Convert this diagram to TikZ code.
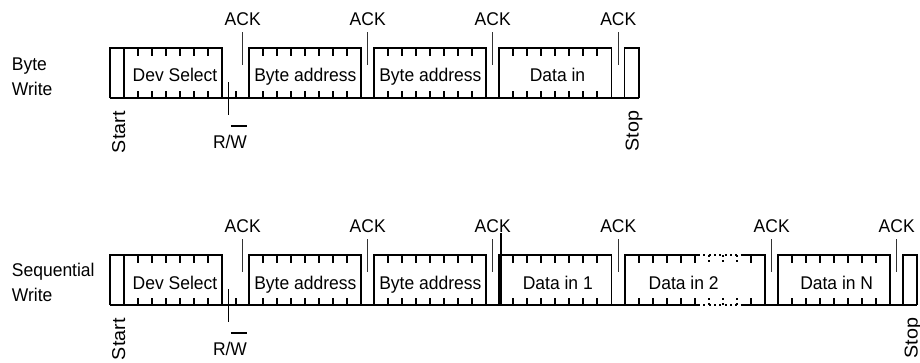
\documentclass[tikz,border=0pt]{standalone}
\usepackage{fontspec}
\setmainfont{Liberation Sans}[FakeStretch=0.95]
\newfontfamily\rotfont{Liberation Sans}[FakeStretch=1.06]
\usetikzlibrary{calc}
\tikzset{
  frm/.style={line width=1.4pt, line join=miter},
  tickln/.style={line width=1.3pt},
  ackl/.style={line width=0.8pt, black!80},
  rwl/.style={line width=0.8pt},
  dots/.style={line width=1.2pt, dash pattern=on 1.5pt off 2.5pt},
  txt/.style={inner sep=0pt, font=\fontsize{13.8}{16}\selectfont},
  rot/.style={inner sep=0pt, rotate=90, anchor=base west, font=\rotfont\fontsize{13.95}{16}\selectfont},
}
\newcommand\bitticks[4]{%
  \draw[tickln] \foreach \k in {1,...,#2}{ ({#1+14*\k},#3) -- ({#1+14*\k},{#3+8}) ({#1+14*\k},#4) -- ({#1+14*\k},{#4-7.5}) };}
\newcommand\bytebx[4]{\draw[frm] (#1,#4) |- (#2,#3) -- (#2,#4);}
\newcommand\ackline[2]{\draw[ackl] (#1,{#2-16}) -- (#1,{#2+17});}
\begin{document}
\begin{tikzpicture}[x=0.75pt, y=-0.75pt]
\useasboundingbox (0,0) rectangle (920,362);

% ---------------- Byte Write ----------------
\node[txt, anchor=base west] (bwA) at (11.7,70) {Byte};
\node[txt, anchor=base west] (bwB) at (11.7,95) {Write};

\draw[frm] (110,98) -- (639,98);
\draw[frm] (110,98) |- (222,48) -- (222,98);
\draw[frm] (124,48) -- (124,98);
\bitticks{124}{6}{48}{98}
\draw[rwl] (228.5,82) -- (228.5,115);
\draw[tickln] (236,98) -- (236,90.5);
\ackline{242.7}{48}
\bytebx{249}{361}{48}{98} \bitticks{249}{7}{48}{98}
\ackline{367.7}{48}
\bytebx{374}{486}{48}{98} \bitticks{374}{7}{48}{98}
\ackline{492.7}{48}
\bytebx{499}{611.5}{48}{98} \bitticks{499}{7}{48}{98}
\ackline{618.3}{48}
\bytebx{624.5}{639}{48}{98}

\node[txt, anchor=base] (dsA) at (175,81.7) {Dev Select};
\node[txt, anchor=base] (baA1) at (305.3,81.7) {Byte address};
\node[txt, anchor=base] (baA2) at (430.3,81.7) {Byte address};
\node[txt, anchor=base] (diA) at (557.5,81.7) {Data in};

\node[txt, anchor=base] (ackA1) at (242.7,25) {ACK};
\node[txt, anchor=base] (ackA2) at (367.7,25) {ACK};
\node[txt, anchor=base] (ackA3) at (492.7,25) {ACK};
\node[txt, anchor=base] (ackA4) at (618.3,25) {ACK};

\node[txt, anchor=base] (rwA) at (230,148) {R/W};
\draw[rwl] ($(rwA.base east)+(-16.5,-22)$) -- ++(16.5,0);
\node[rot] (startA) at (125,153.3) {Start};
\node[rot] (stopA) at (638.5,151.7) {Stop};

% ---------------- Sequential Write ----------------
\node[txt, anchor=base west] (swA) at (11.7,276) {Sequential};
\node[txt, anchor=base west] (swB) at (11.7,301) {Write};

\draw[frm] (110,305) -- (698,305);
\draw[dots] (698,305) -- (743,305);
\draw[frm] (743,305) -- (917,305);
\draw[frm] (110,305) |- (222,255) -- (222,305);
\draw[frm] (124,255) -- (124,305);
\bitticks{124}{6}{255}{305}
\draw[rwl] (228.5,289) -- (228.5,322);
\draw[tickln] (236,305) -- (236,297.5);
\ackline{242.7}{255}
\bytebx{249}{361}{255}{305} \bitticks{249}{7}{255}{305}
\ackline{367.7}{255}
\bytebx{374}{486}{255}{305} \bitticks{374}{7}{255}{305}
\ackline{492.7}{255}
\bytebx{499}{611.5}{255}{305} \bitticks{499}{7}{255}{305}
\draw[frm] (500.8,233) -- (500.8,305);
\ackline{618.3}{255}
% Data in 2 with dotted part
\draw[frm] (625,305) |- (698,255);
\draw[dots] (698,255) -- (743,255);
\draw[frm] (743,255) -- (765,255) -- (765,305);
\bitticks{625}{5}{255}{305}
\draw[dots] (709,255) -- (709,263) (723,255) -- (723,263) (737,255) -- (737,263)
            (709,305) -- (709,297.5) (723,305) -- (723,297.5) (737,305) -- (737,297.5);
\draw[tickln] (751,255) -- (751,263) (751,305) -- (751,297.5);
\ackline{771.7}{255}
\bytebx{778}{890}{255}{305} \bitticks{778}{7}{255}{305}
\ackline{896.7}{255}
\bytebx{903.3}{917}{255}{305}

\node[txt, anchor=base] (dsB) at (175,289) {Dev Select};
\node[txt, anchor=base] (baB1) at (305.3,289) {Byte address};
\node[txt, anchor=base] (baB2) at (430.3,289) {Byte address};
\node[txt, anchor=base] (diB1) at (557.8,289) {Data in 1};
\node[txt, anchor=base] (diB2) at (683.7,289) {Data in 2};
\node[txt, anchor=base] (diBN) at (836.7,289) {Data in N};

\node[txt, anchor=base] (ackB1) at (242.7,232) {ACK};
\node[txt, anchor=base] (ackB2) at (367.7,232) {ACK};
\node[txt, anchor=base] (ackB3) at (492.7,232) {ACK};
\node[txt, anchor=base] (ackB4) at (618.3,232) {ACK};
\node[txt, anchor=base] (ackB5) at (771.7,232) {ACK};
\node[txt, anchor=base] (ackB6) at (896.7,232) {ACK};

\node[txt, anchor=base] (rwB) at (230,355) {R/W};
\draw[rwl] ($(rwB.base east)+(-16.5,-22)$) -- ++(16.5,0);
\node[rot] (startB) at (125,360.3) {Start};
\node[rot] (stopB) at (917.5,358.7) {Stop};
\end{tikzpicture}
\end{document}
